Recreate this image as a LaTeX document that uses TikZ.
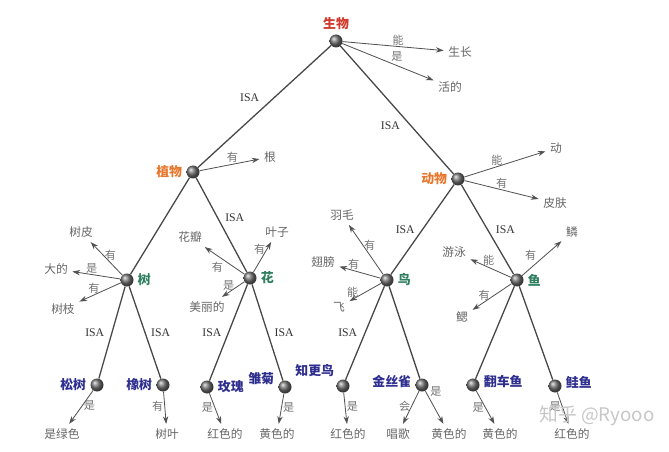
\documentclass[tikz,border=0pt]{standalone}
\usepackage{fontspec}
\setmainfont{Liberation Serif}
\newfontfamily\cjk{Noto Sans CJK SC}
\usetikzlibrary{arrows.meta}

\definecolor{rootred}{HTML}{D0392B}
\definecolor{kindorange}{HTML}{E8772E}
\definecolor{groupgreen}{HTML}{2F7F5F}
\definecolor{leafblue}{HTML}{2E2E8E}

\begin{document}
\begin{tikzpicture}[x=0.03cm, y=-0.03cm,
    ball/.style={circle, inner sep=0pt, minimum size=3.9mm, shading=ball, ball color=black!55},
    isa/.style={draw=black!72, line width=1.1pt},
    has/.style={draw=black!68, line width=0.7pt, -{Stealth[length=2.3mm, width=1.6mm]}},
    attr/.style={text=black!60, font=\cjk\fontsize{10}{12}\selectfont, inner sep=1pt, outer sep=3pt},
    rel/.style={text=black!55, font=\cjk\fontsize{9.5}{11}\selectfont, inner sep=1pt},
    isalbl/.style={text=black!80, font=\fontsize{10}{12}\selectfont, inner sep=1pt},
    rootlbl/.style={text=rootred, font=\cjk\bfseries\fontsize{11}{13}\selectfont},
    kindlbl/.style={text=kindorange, font=\cjk\bfseries\fontsize{11}{13}\selectfont},
    grouplbl/.style={text=groupgreen, font=\cjk\bfseries\fontsize{11}{13}\selectfont},
    leaflbl/.style={text=leafblue, font=\cjk\bfseries\fontsize{11}{13}\selectfont}]
  \useasboundingbox (0,0) rectangle (669,452);

  % concepts
  \node[ball, label={[rootlbl]above:生物}] (1) at (336,41) {};
  \node[ball, label={[kindlbl]left:植物}] (2) at (193,172) {};
  \node[ball, label={[kindlbl]left:动物}] (3) at (458,179) {};
  \node[ball, label={[grouplbl]right:树}] (4) at (127,280) {};
  \node[ball, label={[grouplbl]right:花}] (5) at (250,278) {};
  \node[ball, label={[grouplbl]right:鸟}] (6) at (387,280) {};
  \node[ball, label={[grouplbl]right:鱼}] (7) at (517,280) {};
  \node[ball, label={[leaflbl]left:松树}] (8) at (97,385) {};
  \node[ball, label={[leaflbl]left:橡树}] (9) at (163,385) {};
  \node[ball, label={[leaflbl]right:玫瑰}] (10) at (207,387) {};
  \node[ball, label={[leaflbl, yshift=2.4mm]left:雏菊}] (11) at (285,387) {};
  \node[ball, label={[leaflbl]above left:知更鸟}] (12) at (343,386) {};
  \node[ball, label={[leaflbl, yshift=1mm]left:金丝雀}] (13) at (422,385) {};
  \node[ball, label={[leaflbl, yshift=1mm]right:翻车鱼}] (14) at (473,385) {};
  \node[ball, label={[leaflbl, yshift=1mm]right:鲑鱼}] (15) at (555,386) {};

  % properties
  \node[attr] (1a) at (460,52) {生长};
  \node[attr] (1b) at (450,87) {活的};
  \node[attr] (2a) at (270,157) {根};
  \node[attr] (3a) at (556,148) {动};
  \node[attr] (3b) at (555,203) {皮肤};
  \node[attr] (4a) at (81,232) {树皮};
  \node[attr] (4b) at (56,269) {大的};
  \node[attr] (4c) at (63,309) {树枝};
  \node[attr] (5a) at (190,237) {花瓣};
  \node[attr] (5b) at (277,232) {叶子};
  \node[attr] (5c) at (207,307) {美丽的};
  \node[attr] (6a) at (342,215) {羽毛};
  \node[attr] (6b) at (323,262) {翅膀};
  \node[attr] (6c) at (339,307) {飞};
  \node[attr] (7a) at (454,252) {游泳};
  \node[attr] (7b) at (572,232) {鳞};
  \node[attr] (7c) at (462,317) {鳃};
  \node[attr] (8a) at (62,434) {是绿色};
  \node[attr] (9a) at (167,434) {树叶};
  \node[attr] (10a) at (225,434) {红色的};
  \node[attr] (11a) at (277,434) {黄色的};
  \node[attr] (12a) at (348,434) {红色的};
  \node[attr] (13a) at (398,434) {唱歌};
  \node[attr] (13b) at (449,434) {黄色的};
  \node[attr] (14a) at (500,434) {黄色的};
  \node[attr] (15a) at (572,434) {红色的};

  % ISA links
  \draw[isa] (1) -- node[isalbl, pos=.43, left=3.9mm] {ISA} (2);
  \draw[isa] (1) -- node[isalbl, pos=.62, left=2.7mm] {ISA} (3);
  \draw[isa] (2) -- (4);
  \draw[isa] (2) -- node[isalbl, pos=.42, right=1.8mm] {ISA} (5);
  \draw[isa] (3) -- node[isalbl, pos=.5, left=1.8mm] {ISA} (6);
  \draw[isa] (3) -- node[isalbl, pos=.5, right=2mm] {ISA} (7);
  \draw[isa] (4) -- node[isalbl, left=1.8mm] {ISA} (8);
  \draw[isa] (4) -- node[isalbl, right=1.3mm] {ISA} (9);
  \draw[isa] (5) -- node[isalbl, left=1.6mm] {ISA} (10);
  \draw[isa] (5) -- node[isalbl, right=1.6mm] {ISA} (11);
  \draw[isa] (6) -- node[isalbl, left=1.8mm] {ISA} (12);
  \draw[isa] (6) -- (13);
  \draw[isa] (7) -- (14);
  \draw[isa] (7) -- (15);

  % property links
  \draw[has] (1) -- node[rel, pos=.55, above] {能} (1a);
  \draw[has] (1) -- node[rel, pos=.6, above=2pt] {是} (1b);
  \draw[has] (2) -- node[rel, pos=.55, above] {有} (2a);
  \draw[has] (3) -- node[rel, pos=.4, above] {能} (3a);
  \draw[has] (3) -- node[rel, pos=.5, above] {有} (3b);
  \draw[has] (4) -- node[rel, pos=.6, right] {有} (4a);
  \draw[has] (4) -- node[rel, pos=.6, above] {是} (4b);
  \draw[has] (4) -- node[rel, pos=.65, above] {有} (4c);
  \draw[has] (5) -- node[rel, pos=.5, below left] {有} (5a);
  \draw[has] (5) -- node[rel, pos=.75, left] {有} (5b);
  \draw[has] (5) -- node[rel, pos=.7, above] {是} (5c);
  \draw[has] (6) -- node[rel, pos=.6, right] {有} (6a);
  \draw[has] (6) -- node[rel, pos=.65, above] {有} (6b);
  \draw[has] (6) -- node[rel, pos=.9, above] {能} (6c);
  \draw[has] (7) -- node[rel, pos=.55, above] {能} (7a);
  \draw[has] (7) -- node[rel, pos=.4, above left] {有} (7b);
  \draw[has] (7) -- node[rel, pos=.7, above] {有} (7c);
  \draw[has] (8) -- node[rel, pos=.45, right] {是} (8a);
  \draw[has] (9) -- node[rel, pos=.45, left] {有} (9a);
  \draw[has] (10) -- node[rel, pos=.45, left] {是} (10a);
  \draw[has] (11) -- node[rel, pos=.45, right] {是} (11a);
  \draw[has] (12) -- node[rel, pos=.45, right] {是} (12a);
  \draw[has] (13) -- node[rel, pos=.45, left] {会} (13a);
  \draw[has] (13) -- node[rel, pos=.2, above right] {是} (13b);
  \draw[has] (14) -- node[rel, pos=.5, left] {是} (14a);
  \draw[has] (15) -- node[rel, pos=.45, left] {是} (15a);

  \node[text=black!22, font=\cjk\fontsize{16}{18}\selectfont] (wm) at (597,416) {知乎 @Ryooo};
\end{tikzpicture}
\end{document}
